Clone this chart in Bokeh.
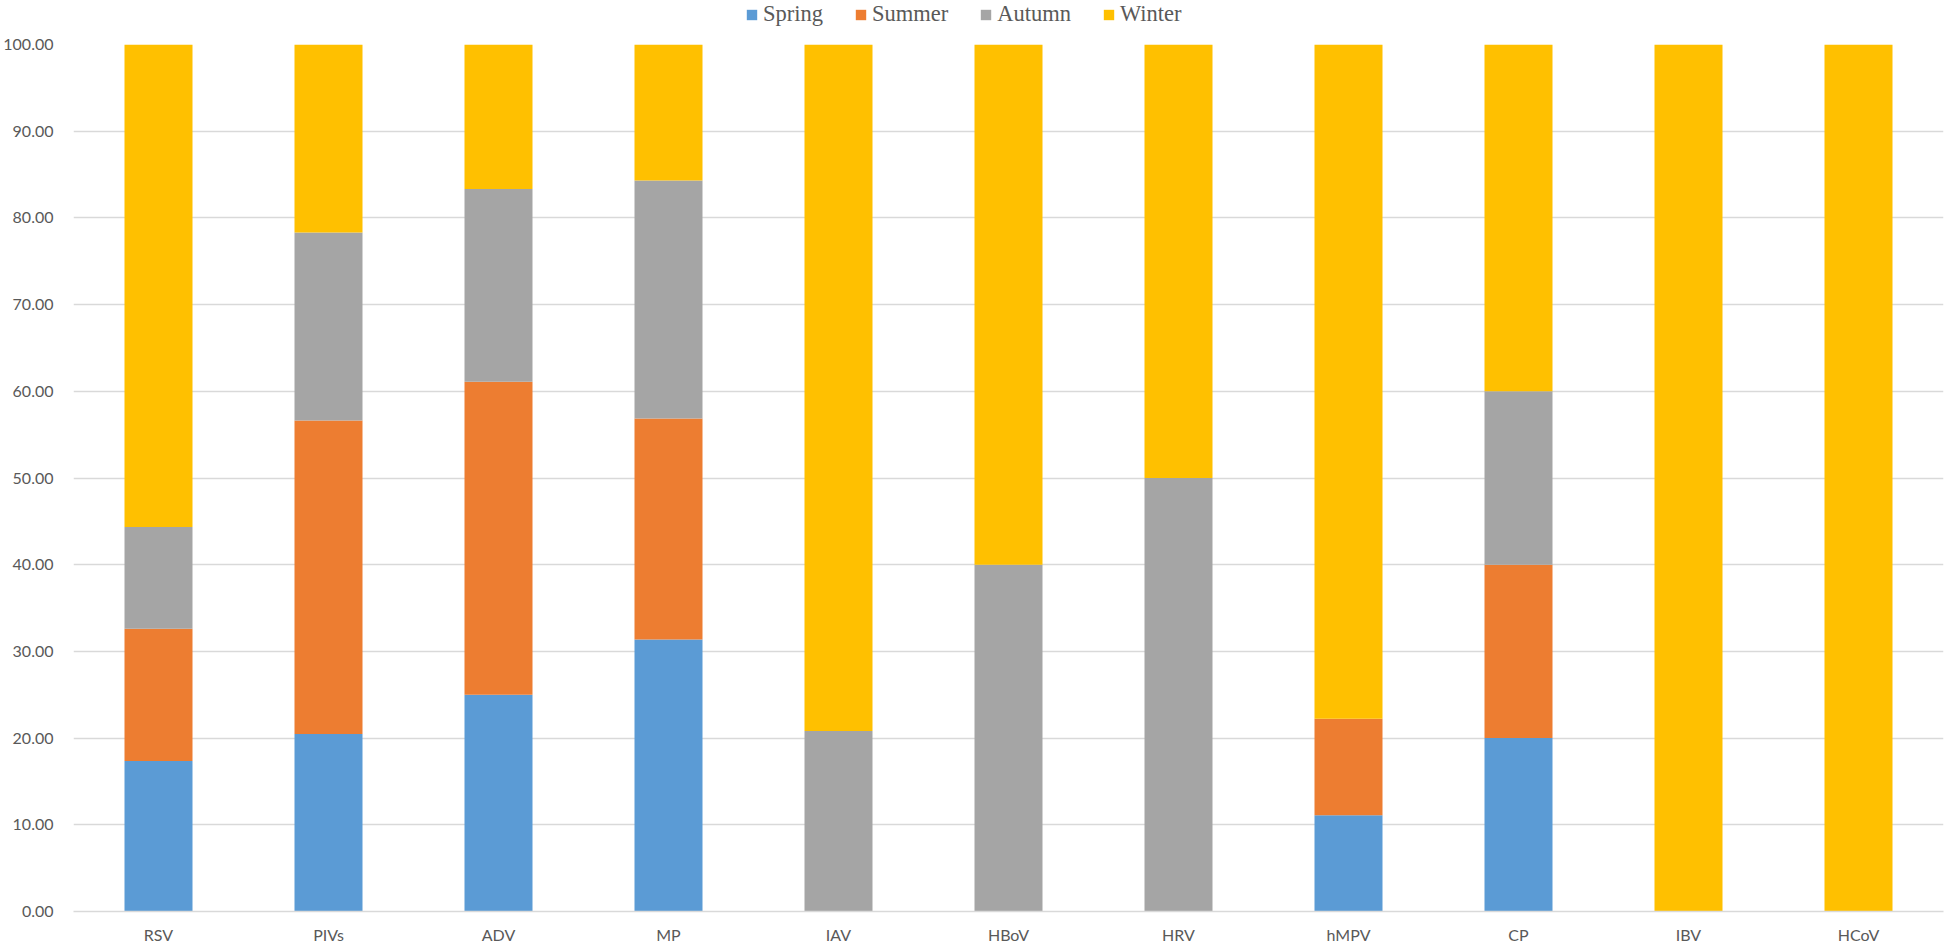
from bokeh.plotting import figure
from bokeh.layouts import column
from bokeh.models import (FactorRange, Range1d, FixedTicker, NumeralTickFormatter,
                          Legend, LegendItem, ColumnDataSource)
from bokeh.embed import file_html
from bokeh.resources import INLINE

viruses = ["RSV", "PIVs", "ADV", "MP", "IAV", "HBoV", "HRV", "hMPV", "CP", "IBV", "HCoV"]
seasons = ["Spring", "Summer", "Autumn", "Winter"]
spring = [17.36, 20.48, 25.00, 31.37, 0.00, 0.00, 0.00, 11.11, 20.00, 0.00, 0.00]
summer = [15.24, 36.14, 36.11, 25.49, 0.00, 0.00, 0.00, 11.11, 20.00, 0.00, 0.00]
autumn = [11.76, 21.69, 22.22, 27.45, 20.83, 40.00, 50.00, 0.00, 20.00, 0.00, 0.00]
winter = [55.64, 21.69, 16.67, 15.69, 79.17, 60.00, 50.00, 77.78, 40.00, 100.00, 100.00]
colors = ["#5B9BD5", "#ED7D31", "#A5A5A5", "#FFC000"]
yticks = [0, 10, 20, 30, 40, 50, 60, 70, 80, 90, 100]

data = ColumnDataSource(dict(x=viruses, Spring=spring, Summer=summer,
                             Autumn=autumn, Winter=winter))

W = 1946
LH = 30
H = 946 - LH

p = figure(width=W, height=H, x_range=FactorRange(*viruses, range_padding=0),
           y_range=Range1d(0, 100), output_backend="svg", toolbar_location=None,
           min_border_left=73, min_border_right=3, min_border_top=14, min_border_bottom=32)
p.outline_line_color = None
p.background_fill_color = "white"

rs = p.vbar_stack(seasons, x="x", width=0.4, source=data, color=colors,
                  line_color=None)

p.xgrid.grid_line_color = None
p.ygrid.grid_line_color = "#D9D9D9"
p.ygrid.grid_line_width = 1.3
p.ygrid.ticker = FixedTicker(ticks=yticks)

p.yaxis.ticker = FixedTicker(ticks=yticks)
p.yaxis.formatter = NumeralTickFormatter(format="0.00")
p.yaxis.axis_line_color = None
p.yaxis.major_tick_line_color = None
p.yaxis.minor_tick_line_color = None
p.yaxis.major_tick_in = 0
p.yaxis.major_tick_out = 0
p.yaxis.major_label_standoff = 20
p.yaxis.major_label_text_font = "Lato"
p.yaxis.major_label_text_font_size = "16px"
p.yaxis.major_label_text_color = "#595959"

p.xaxis.axis_line_color = "#D9D9D9"
p.xaxis.axis_line_width = 1.3
p.xaxis.major_tick_line_color = None
p.xaxis.minor_tick_line_color = None
p.xaxis.major_tick_in = 0
p.xaxis.major_tick_out = 0
p.xaxis.major_label_standoff = 13
p.xaxis.major_label_text_font = "Lato"
p.xaxis.major_label_text_font_size = "16px"
p.xaxis.major_label_text_color = "#595959"

# legend strip above the chart (same series; its bars lie outside this strip's range)
lg = figure(width=W, height=LH, x_range=FactorRange(*viruses, range_padding=0),
            y_range=Range1d(1000, 1001), output_backend="svg", toolbar_location=None,
            min_border_left=0, min_border_right=0, min_border_top=0, min_border_bottom=0)
lg.outline_line_color = None
lg.axis.visible = False
lg.grid.visible = False
lrs = lg.vbar_stack(seasons, x="x", width=0.4, source=data, color=colors, line_color=None)
items = [LegendItem(label=s, renderers=[r]) for s, r in zip(seasons, lrs)]
legend = Legend(items=items, orientation="horizontal", location=(672, 3),
                glyph_width=13, glyph_height=13, label_standoff=5, spacing=31,
                padding=0, margin=0, border_line_color=None, background_fill_alpha=0,
                label_text_font="Liberation Serif", label_text_font_size="22.5px",
                label_text_color="#595959", label_height=22)
lg.add_layout(legend, "center")

layout = column(lg, p, spacing=0)
open("out.html", "w").write(file_html(layout, INLINE))
